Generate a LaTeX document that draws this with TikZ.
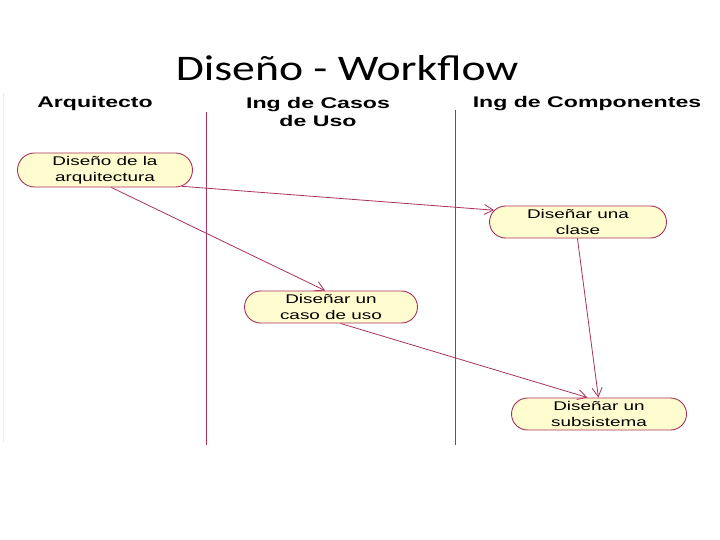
\documentclass[tikz,border=0pt]{standalone}
\usepackage{fontspec}
\setmainfont{Liberation Sans}
\newfontfamily\widesans[FakeStretch=1.5]{Liberation Sans}
\newfontfamily\titlefont[FakeStretch=1.27]{Carlito}
\usetikzlibrary{shapes.misc,arrows.meta}
\definecolor{lanecol}{HTML}{A8325E}
\definecolor{nodefill}{HTML}{FFFDCF}
\tikzset{
  act/.style={rounded rectangle, draw=lanecol, fill=nodefill, line width=0.9pt,
    align=center, font=\widesans\fontsize{12.6}{15.5}\selectfont, inner sep=0pt},
  flow/.style={draw=lanecol, line width=0.8pt, -{Straight Barb[length=9pt,width=10pt]}},
  lane/.style={draw=lanecol, line width=1pt},
  hdr/.style={font=\widesans\bfseries\fontsize{15.4}{18}\selectfont, align=center, inner sep=0pt}
}
\begin{document}
\begin{tikzpicture}[x=1pt,y=-1pt]
\useasboundingbox (0,0) rectangle (720,540);
\fill[white] (0,0) rectangle (720,540);
\draw[black!8] (3,93) -- (3,442);
\node[font=\titlefont\fontsize{36}{38}\selectfont, inner sep=0pt] (title) at (347,68) {Diseño - Workflow};
\node[hdr] (h1) at (95,104) {Arquitecto};
\node[hdr] (h2) at (318,112) {Ing de Casos\\de Uso};
\node[hdr] (h3) at (587,104) {Ing de Componentes};
\coordinate (l1t) at (206,112); \coordinate (l1b) at (206,445);
\coordinate (l2t) at (455,110); \coordinate (l2b) at (455,445);
\draw[lane] (l1t) -- (l1b);
\draw[lane] (l2t) -- (l2b);
\node[act, minimum width=175, minimum height=34] (arq) at (105,170) {Diseño de la\\arquitectura};
\node[act, minimum width=177, minimum height=32] (clase) at (578,222) {Diseñar una\\clase};
\node[act, minimum width=173, minimum height=32] (caso) at (331,307) {Diseñar un\\caso de uso};
\node[act, minimum width=175, minimum height=32] (sub) at (599,414) {Diseñar un\\subsistema};
\draw[flow] (arq.-12) -- (clase.172);
\draw[flow] (arq.-70) -- (caso.110);
\draw[flow] (caso.-60) -- (sub.125);
\draw[flow] (clase.-92) -- (sub.92);
\end{tikzpicture}
\end{document}
